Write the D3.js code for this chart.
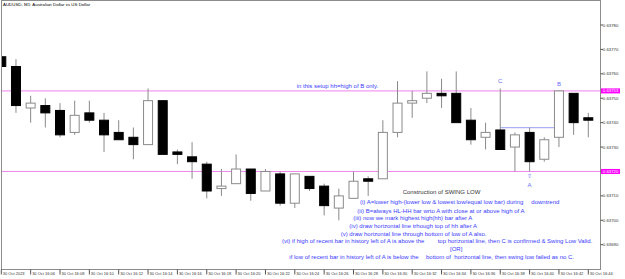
<!DOCTYPE html>
<html><head><meta charset="utf-8">
<script src="https://cdn.jsdelivr.net/npm/d3@7"></script>
<style>
html,body{margin:0;padding:0;background:#fff;}
svg{display:block;font-family:"Liberation Sans",Arial,sans-serif;}
</style></head>
<body><svg id="c" width="625" height="279"></svg>
<script>
const times = ["16:04","16:05","16:06","16:07","16:08","16:09","16:10","16:11","16:12","16:13",
 "16:14","16:15","16:16","16:17","16:18","16:19","16:20","16:21","16:22","16:23",
 "16:24","16:25","16:26","16:27","16:28","16:29","16:30","16:31","16:32","16:33",
 "16:34","16:35","16:36","16:37","16:38","16:39","16:40","16:41","16:42","16:43","16:44"];
const open  = [0.63767,0.63763,0.63746,0.63747,0.63745,0.63736,0.63744,0.63741,0.63736,0.63734,
 0.63731,0.63749,0.63728,0.63726,0.63723,0.63713,0.63715,0.63721,0.63712,0.63719,
 0.63707,0.63718,0.63714,0.63705,0.63709,0.63717,0.63717,0.63736,0.63748,0.63750,
 0.63752,0.63752,0.63741,0.63734,0.63737,0.63730,0.63736,0.63725,0.63734,0.63752,0.63742];
const high  = [0.63768,0.63766,0.63751,0.63750,0.63748,0.63749,0.63749,0.63744,0.63741,0.63738,
 0.63754,0.63749,0.63729,0.63732,0.63724,0.63721,0.63727,0.63721,0.63721,0.63720,
 0.63719,0.63718,0.63715,0.63713,0.63720,0.63718,0.63741,0.63757,0.63753,0.63761,
 0.63758,0.63761,0.63746,0.63740,0.63754,0.63736,0.63738,0.63734,0.63753,0.63752,0.63744];
const low   = [0.63762,0.63744,0.63740,0.63738,0.63734,0.63735,0.63740,0.63728,0.63733,0.63725,
 0.63731,0.63727,0.63723,0.63717,0.63709,0.63710,0.63715,0.63708,0.63712,0.63706,
 0.63705,0.63712,0.63702,0.63700,0.63709,0.63710,0.63717,0.63734,0.63742,0.63748,
 0.63746,0.63740,0.63731,0.63729,0.63729,0.63720,0.63720,0.63724,0.63730,0.63735,0.63734];
const close = [0.63763,0.63747,0.63748,0.63744,0.63735,0.63743,0.63741,0.63735,0.63733,0.63731,
 0.63749,0.63727,0.63727,0.63724,0.63712,0.63714,0.63721,0.63711,0.63720,0.63707,
 0.63719,0.63713,0.63706,0.63710,0.63716,0.63716,0.63736,0.63748,0.63749,0.63752,
 0.63751,0.63740,0.63733,0.63736,0.63729,0.63735,0.63724,0.63733,0.63753,0.63740,0.63741];
const yTicks = [0.63690,0.63700,0.63710,0.63720,0.63730,0.63740,0.63750,0.63760,0.63770,0.63780];
const xTickTimes = ["16:04","16:06","16:08","16:10","16:12","16:14","16:16","16:18","16:20","16:22",
 "16:24","16:26","16:28","16:30","16:32","16:34","16:36","16:38","16:40","16:42","16:44"];
const xTickLabels = ["30 Oct 2023","30 Oct 16:06","30 Oct 16:08","30 Oct 16:10","30 Oct 16:12","30 Oct 16:14",
 "30 Oct 16:16","30 Oct 16:18","30 Oct 16:20","30 Oct 16:22","30 Oct 16:24","30 Oct 16:26","30 Oct 16:28",
 "30 Oct 16:30","30 Oct 16:32","30 Oct 16:34","30 Oct 16:36","30 Oct 16:38","30 Oct 16:40","30 Oct 16:42","30 Oct 16:44"];
const hhLevel = 0.63753;      // high of B
const lowALevel = 0.63720;    // low of A
const midLevel = 0.63738;     // blue horizontal line
const midFrom = "16:38", midTo = "16:42";
const pointLabels = [ {t:"16:38", txt:"C"}, {t:"16:42", txt:"B"} ];
const aTime = "16:40";
const title = "AUDUSD, M1:  Australian Dollar vs US Dollar";

const svg = d3.select("#c");
const L = 2, R = 600.5, T = 1, B = 269.5;
const x = d3.scalePoint().domain(times).range([1.3, 588.3]);
const y = d3.scaleLinear().domain([0.63690, 0.63780]).range([244.7, 25]);

svg.append("defs").append("clipPath").attr("id","plot")
  .append("rect").attr("x",L).attr("y",T).attr("width",R-L).attr("height",B-T);

// frame
svg.append("rect").attr("x",1.5).attr("y",0.5).attr("width",R-1.5).attr("height",B-0.5)
  .attr("fill","none").attr("stroke","#8c8c8c").attr("stroke-width",1);

const plot = svg.append("g").attr("clip-path","url(#plot)");

// magenta levels
[hhLevel, lowALevel].forEach(v=>{
  plot.append("line").attr("x1",L).attr("x2",R).attr("y1",y(v)).attr("y2",y(v))
    .attr("stroke","#ee82ee").attr("stroke-width",1);
});
// blue horizontal line
plot.append("line").attr("x1",x(midFrom)).attr("x2",x(midTo))
  .attr("y1",y(midLevel)).attr("y2",y(midLevel))
  .attr("stroke","#aab2f4").attr("stroke-width",1.3);

const bars = times.map((t,i)=>({t,o:open[i],h:high[i],l:low[i],c:close[i]}));
const g = plot.selectAll("g.bar").data(bars).join("g");
g.append("line").attr("x1",d=>x(d.t)).attr("x2",d=>x(d.t))
  .attr("y1",d=>y(d.h)).attr("y2",d=>y(d.l)).attr("stroke","#8a8a8a").attr("stroke-width",1);
g.append("rect")
  .attr("x",d=>x(d.t)-4.5).attr("width",9)
  .attr("y",d=>y(Math.max(d.o,d.c)))
  .attr("height",d=>Math.max(0.8, Math.abs(y(d.o)-y(d.c))))
  .attr("fill",d=>d.c>=d.o?"#fff":"#000")
  .attr("stroke",d=>d.c>=d.o?"#8a8a8a":"#000").attr("stroke-width",1);

// title
svg.append("text").attr("x",3).attr("y",4.8).attr("dy","0.35em")
  .attr("font-size",4.4).attr("fill","#000").text(title);

// y axis
const ya = svg.append("g");
yTicks.forEach(v=>{
  ya.append("line").attr("x1",R).attr("x2",R+2.5).attr("y1",y(v)).attr("y2",y(v)).attr("stroke","#555");
  ya.append("text").attr("x",R+2.3).attr("y",y(v)).attr("dy","0.35em").attr("font-size",4.3)
    .attr("fill","#333").text(v.toFixed(5));
});
[hhLevel, lowALevel].forEach(v=>{
  ya.append("rect").attr("x",R+0.5).attr("y",y(v)-2.5).attr("width",19).attr("height",5).attr("fill","#ff00ff");
  ya.append("text").attr("x",R+2.3).attr("y",y(v)).attr("dy","0.35em").attr("font-size",4.3)
    .attr("fill","#fff").text(v.toFixed(5));
});

// x axis
const xa = svg.append("g");
xTickTimes.forEach((t,i)=>{
  xa.append("line").attr("x1",x(t)).attr("x2",x(t)).attr("y1",B).attr("y2",B+5).attr("stroke","#555");
  xa.append("text").attr("x",x(t)+1.5).attr("y",273.4).attr("dy","0.35em").attr("font-size",4.0)
    .attr("fill","#333").text(xTickLabels[i]);
});

// annotations
const ann = svg.append("g").attr("font-size",6);
const blue = "#3a3aff";
const notes = [
  ["in this setup hh=high of B only.", 296.7, 85.7, blue],
  ["Construction of SWING LOW", 402.7, 192.3, "#333"],
  ["(i) A=lower high-(lower low & lowest low/equal low bar) during", 360, 202.3, blue],
  ["downtrend", 531.3, 202.3, blue],
  ["(ii) B=always HL-HH bar wrto A with close at or above high of A", 357.3, 210.7, blue],
  ["(iii) now we mark highest high(hh) bar after A", 353.3, 218.3, blue],
  ["(iv) draw horizontal line trhough top of hh after A", 349.3, 226, blue],
  ["(v) draw horizontal line through bottom of low of A also.", 340.7, 233.7, blue],
  ["(vi) if high of recent bar in history left of A is above the", 282, 241.3, blue],
  ["top horizontal line, then C is confirmed & Swing Low Valid.", 437.7, 241.3, blue],
  ["[OR]", 450, 248.7, blue],
  ["if low of recent bar in history left of A is below the", 289.3, 257.3, blue],
  ["bottom of  horizontal line, then swing low failed as no C.", 426, 257.3, blue]
];
notes.forEach(n=>{
  ann.append("text").attr("x",n[1]).attr("y",n[2]).attr("dy","0.35em")
    .attr("fill",n[3]).style("white-space","pre").text(n[0]);
});

// point labels
pointLabels.forEach(p=>{
  svg.append("text").attr("x",x(p.t)).attr("y",y(high[times.indexOf(p.t)])-7.5).attr("dy","0.35em")
    .attr("text-anchor","middle").attr("font-size",6).attr("fill","#6a6aff").text(p.txt);
});
const ai = times.indexOf(aTime);
svg.append("text").attr("x",x(aTime)).attr("y",y(low[ai])+4.5).attr("dy","0.35em")
  .attr("text-anchor","middle").attr("font-size",6).attr("font-family","DejaVu Sans")
  .attr("fill","#6a6aff").text("⇧");
svg.append("text").attr("x",x(aTime)).attr("y",y(low[ai])+13.5).attr("dy","0.35em")
  .attr("text-anchor","middle").attr("font-size",6).attr("fill","#6a6aff").text("A");
</script></body></html>
